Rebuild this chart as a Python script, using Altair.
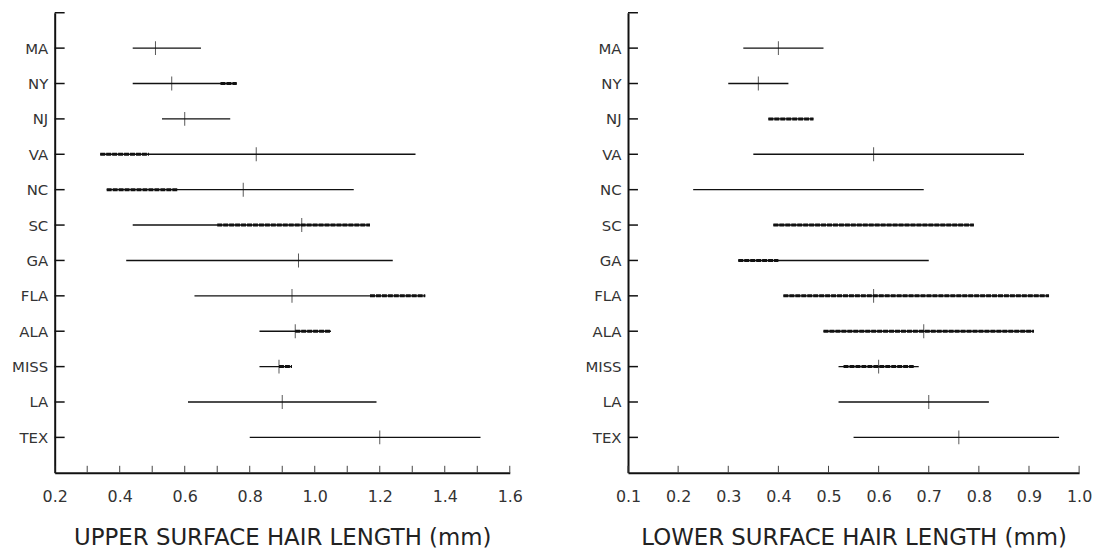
import json
import altair as alt
import pandas as pd

states = ["MA", "NY", "NJ", "VA", "NC", "SC", "GA", "FLA", "ALA", "MISS", "LA", "TEX"]

# Upper surface hair length (mm)
upper_min = [0.44, 0.44, 0.53, 0.34, 0.36, 0.44, 0.42, 0.63, 0.83, 0.83, 0.61, 0.80]
upper_max = [0.65, 0.76, 0.74, 1.31, 1.12, 1.17, 1.24, 1.34, 1.05, 0.93, 1.19, 1.51]
upper_mean = [0.51, 0.56, 0.60, 0.82, 0.78, 0.96, 0.95, 0.93, 0.94, 0.89, 0.90, 1.20]
upper_dense_lo = [None, 0.71, None, 0.34, 0.36, 0.70, None, 1.17, 0.94, 0.89, None, None]
upper_dense_hi = [None, 0.76, None, 0.49, 0.58, 1.17, None, 1.34, 1.05, 0.93, None, None]

# Lower surface hair length (mm)
lower_min = [0.33, 0.30, 0.38, 0.35, 0.23, 0.39, 0.32, 0.41, 0.49, 0.52, 0.52, 0.55]
lower_max = [0.49, 0.42, 0.47, 0.89, 0.69, 0.79, 0.70, 0.94, 0.91, 0.68, 0.82, 0.96]
lower_mean = [0.40, 0.36, None, 0.59, None, None, None, 0.59, 0.69, 0.60, 0.70, 0.76]
lower_dense_lo = [None, None, 0.38, None, None, 0.39, 0.32, 0.41, 0.49, 0.53, None, None]
lower_dense_hi = [None, None, 0.47, None, None, 0.79, 0.40, 0.94, 0.91, 0.67, None, None]

upper_ticks = [0.2, 0.3, 0.4, 0.5, 0.6, 0.7, 0.8, 0.9, 1.0, 1.1, 1.2, 1.3, 1.4, 1.5, 1.6]
upper_labels = [0.2, 0.4, 0.6, 0.8, 1.0, 1.2, 1.4, 1.6]
lower_ticks = [0.1, 0.2, 0.3, 0.4, 0.5, 0.6, 0.7, 0.8, 0.9, 1.0]
lower_labels = [0.1, 0.2, 0.3, 0.4, 0.5, 0.6, 0.7, 0.8, 0.9, 1.0]

H = 463
INK = "#111111"
LABEL = "#333333"
FONT = "DejaVu Sans"

label_expr = "[''," + ",".join(json.dumps(s) for s in states) + "][round(datum.value)]"


def panel(vmin, vmax, vmean, dlo, dhi, ticks, labels, domain, title, width):
    df = pd.DataFrame({
        "state": states,
        "pos": list(range(1, len(states) + 1)),
        "lo": vmin, "hi": vmax, "mean": vmean,
        "dlo": dlo, "dhi": dhi,
    })
    xscale = alt.Scale(domain=domain, nice=False, zero=False)
    yscale = alt.Scale(domain=[0, len(states) + 1], nice=False, reverse=True, zero=False)
    xaxis = alt.Axis(
        title=title, values=labels, format=".1f", ticks=False, grid=False,
        domainColor=INK, domainWidth=2, labelFlush=False, labelOverlap=False,
        labelFont=FONT, labelFontSize=16, labelColor=LABEL, labelPadding=16,
        titleFont=FONT, titleFontSize=23, titleFontWeight="normal", titleColor="#222222",
        titlePadding=22,
    )
    yaxis = alt.Axis(
        title=None, values=list(range(1, len(states) + 1)), labelExpr=label_expr,
        ticks=False, grid=False, domainColor=INK, domainWidth=2,
        labelOverlap=False,
        labelFont=FONT, labelFontSize=15, labelColor=LABEL, labelPadding=7,
        minExtent=44, maxExtent=44,
    )
    X = lambda f: alt.X(f, scale=xscale, axis=xaxis)
    Y = lambda f: alt.Y(f, scale=yscale, axis=yaxis)

    base = alt.Chart(df)
    rng = base.mark_rule(color=INK, strokeWidth=1.4).encode(
        x=X("lo:Q"), x2="hi:Q", y=Y("pos:Q"),
    )
    dense = base.transform_filter("isValid(datum.dlo)").mark_rule(
        color=INK, strokeWidth=3, strokeDash=[5, 1]
    ).encode(x=X("dlo:Q"), x2="dhi:Q", y=Y("pos:Q"))
    means = base.transform_filter("isValid(datum.mean)").mark_tick(
        color=INK, orient="vertical", thickness=1, size=14
    ).encode(x=X("mean:Q"), y=Y("pos:Q"))

    ytick_df = pd.DataFrame({"pos": list(range(0, len(states) + 1))})
    yticks = alt.Chart(ytick_df).mark_rule(color=INK, strokeWidth=1.5).encode(
        y=Y("pos:Q"), x=alt.value(0), x2=alt.value(10)
    )
    xtick_df = pd.DataFrame({"v": ticks})
    xticks = alt.Chart(xtick_df).mark_rule(color="#444444", strokeWidth=1).encode(
        x=X("v:Q"), y=alt.value(H), y2=alt.value(H - 7)
    )
    return alt.layer(rng, dense, means, yticks, xticks).properties(width=width, height=H)


left = panel(upper_min, upper_max, upper_mean, upper_dense_lo, upper_dense_hi,
             upper_ticks, upper_labels, [0.2, 1.6],
             "UPPER SURFACE HAIR LENGTH (mm)", 458)
right = panel(lower_min, lower_max, lower_mean, lower_dense_lo, lower_dense_hi,
              lower_ticks, lower_labels, [0.1, 1.0],
              "LOWER SURFACE HAIR LENGTH (mm)", 454)

chart = alt.hconcat(left, right, spacing=119, bounds="flush").properties(
    padding={"left": 3, "top": 2, "right": 5, "bottom": 5},
    background="white",
).configure_view(stroke=None).configure_axis(labelOverlap=False)

chart.save("out.html", embed_options={"renderer": "svg", "actions": False})
